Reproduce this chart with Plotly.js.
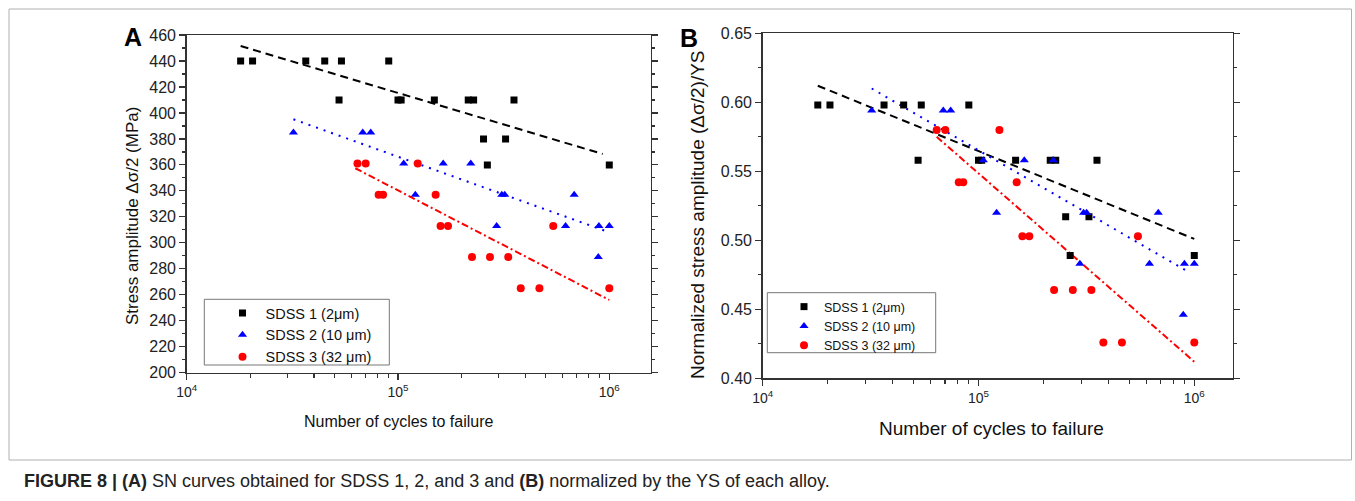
<!DOCTYPE html>
<html>
<head>
<meta charset="utf-8">
<script src="https://cdn.plot.ly/plotly-3.0.1.min.js"></script>
<style>
html,body{margin:0;padding:0;background:#fff;}
#chart{width:1355px;height:501px;}
</style>
</head>
<body>
<div id="chart"></div>
<script>
// ---------- Panel A: stress amplitude (MPa) ----------
const s1A_x = [18000, 20500, 36600, 45000, 54000, 90400, 52600, 100000, 103500, 148600, 215000, 228000, 354000, 254000, 323000, 264800, 1000000];
const s1A_y = [440, 440, 440, 440, 440, 440, 410, 410, 410, 410, 410, 410, 410, 380, 380, 360, 360];
const s2A_x = [32000, 68100, 74300, 106400, 163700, 221000, 120800, 310000, 320000, 682000, 293000, 621000, 893000, 1000000, 887000];
const s2A_y = [385, 385, 385, 361, 361, 361, 337, 337, 337, 337, 313, 313, 313, 313, 289];
const s3A_x = [64300, 70300, 81000, 85000, 124000, 150700, 159000, 172500, 224000, 272500, 332500, 543000, 381000, 467000, 1000000];
const s3A_y = [361, 361, 337, 337, 361, 337, 313, 313, 289, 289, 289, 313, 265, 265, 265];
const fit1A_x = [18000, 930000], fit1A_y = [451.5, 368.4];
const fit2A_x = [32000, 1000000], fit2A_y = [395.1, 308.1];
const fit3A_x = [62800, 1000000], fit3A_y = [357.4, 256.0];

// ---------- Panel B: normalized stress amplitude ----------
const s1B_x = [18000, 20500, 36500, 45000, 54300, 90200, 52500, 100000, 103500, 148600, 215000, 228000, 354000, 253500, 325000, 266000, 1000000];
const s1B_y = [0.598, 0.598, 0.598, 0.598, 0.598, 0.598, 0.558, 0.558, 0.558, 0.558, 0.558, 0.558, 0.558, 0.517, 0.517, 0.489, 0.489];
const s2B_x = [32000, 68700, 74300, 105300, 163000, 222000, 121300, 307000, 317000, 681000, 295000, 620000, 900000, 1000000, 889000];
const s2B_y = [0.594, 0.594, 0.594, 0.558, 0.558, 0.558, 0.520, 0.520, 0.520, 0.520, 0.483, 0.483, 0.483, 0.483, 0.446];
const s3B_x = [64000, 70200, 81000, 85000, 125000, 150300, 159700, 172000, 224000, 273500, 333500, 548000, 379000, 462000, 1000000];
const s3B_y = [0.580, 0.580, 0.542, 0.542, 0.580, 0.542, 0.503, 0.503, 0.464, 0.464, 0.464, 0.503, 0.426, 0.426, 0.426];
const fit1B_x = [18000, 1000000], fit1B_y = [0.612, 0.501];
const fit2B_x = [32000, 920000], fit2B_y = [0.610, 0.478];
const fit3B_x = [64000, 1000000], fit3B_y = [0.575, 0.412];

const seriesNames = ['SDSS 1 (2μm)', 'SDSS 2 (10 μm)', 'SDSS 3 (32 μm)'];
const xTickVals = [1e4, 1e5, 1e6];
const xTickText = ['10<sup>4</sup>', '10<sup>5</sup>', '10<sup>6</sup>'];
const xMinorVals = [2e4,3e4,4e4,5e4,6e4,7e4,8e4,9e4,2e5,3e5,4e5,5e5,6e5,7e5,8e5,9e5];

const W = 1355, H = 501;
const px = v => v / W, py = v => 1 - v / H;

const FONT = "Arial, 'Liberation Sans', Helvetica, sans-serif";
const colors = ['#000000', '#0000ff', '#ff0000'];
const symbols = ['square', 'triangle-up', 'circle'];
const sizes = [7, 8, 8];

function pts(x, y, i, xa, ya, leg) {
  return {x: x, y: y, type: 'scatter', mode: 'markers', name: seriesNames[i],
    xaxis: xa, yaxis: ya, legend: leg,
    marker: {symbol: symbols[i], color: colors[i], size: sizes[i], line: {width: 0}}};
}
const dashes = ['8px,5px', '2px,6px', '7px,3px,2px,3px'];
function fit(x, y, i, xa, ya) {
  return {x: x, y: y, type: 'scatter', mode: 'lines', showlegend: false,
    xaxis: xa, yaxis: ya, hoverinfo: 'skip',
    line: {color: colors[i], width: 2, dash: dashes[i]}};
}

const data = [
  fit(fit1A_x, fit1A_y, 0, 'x', 'y'), fit(fit2A_x, fit2A_y, 1, 'x', 'y'), fit(fit3A_x, fit3A_y, 2, 'x', 'y'),
  pts(s1A_x, s1A_y, 0, 'x', 'y', 'legend'), pts(s2A_x, s2A_y, 1, 'x', 'y', 'legend'), pts(s3A_x, s3A_y, 2, 'x', 'y', 'legend'),
  fit(fit1B_x, fit1B_y, 0, 'x2', 'y2'), fit(fit2B_x, fit2B_y, 1, 'x2', 'y2'), fit(fit3B_x, fit3B_y, 2, 'x2', 'y2'),
  pts(s1B_x, s1B_y, 0, 'x2', 'y2', 'legend2'), pts(s2B_x, s2B_y, 1, 'x2', 'y2', 'legend2'), pts(s3B_x, s3B_y, 2, 'x2', 'y2', 'legend2')
];

const axisCommon = {showgrid: false, zeroline: false, showline: true, linecolor: '#333', linewidth: 1.5,
  ticks: 'outside', tickcolor: '#333', tickwidth: 1.2, ticklen: 6, fixedrange: true};

function xAxis(domain, range, anchor, fs) {
  return Object.assign({}, axisCommon, {type: 'log', domain: domain, range: range, anchor: anchor,
    mirror: true, tickmode: 'array', tickvals: xTickVals, ticktext: xTickText,
    tickfont: {family: FONT, size: fs, color: '#222'},
    minor: {tickmode: 'array', tickvals: xMinorVals, ticklen: 4, tickcolor: '#333', ticks: 'outside', showgrid: false}});
}
function yAxis(domain, range, anchor, dtick, mdtick, fmt, fs) {
  return Object.assign({}, axisCommon, {domain: domain, range: range, anchor: anchor,
    mirror: 'ticks', tickmode: 'linear', tick0: range[0], dtick: dtick, tickformat: fmt,
    tickfont: {family: FONT, size: fs, color: '#222'},
    minor: {dtick: mdtick, ticklen: 3, tickcolor: '#333', ticks: 'outside', showgrid: false}});
}

const layout = {
  width: W, height: H,
  margin: {l: 0, r: 0, t: 0, b: 0},
  paper_bgcolor: '#fff', plot_bgcolor: '#fff',
  showlegend: true,
  xaxis: xAxis([px(186.7), px(650.7)], [4, 6.196], 'y', 14),
  yaxis: yAxis([py(372.7), py(35)], [200, 460], 'x', 20, 10, 'd', 16),
  xaxis2: xAxis([px(762.7), px(1232.7)], [4, 6.178], 'y2', 14),
  yaxis2: yAxis([py(378.3), py(33.3)], [0.40, 0.65], 'x2', 0.05, 0.025, '.2f', 16),
  legend: {x: px(219.5), y: py(297), xanchor: 'left', yanchor: 'top', bgcolor: 'rgba(0,0,0,0)', borderwidth: 0,
    itemwidth: 36, font: {family: FONT, size: 14.5, color: '#111'}, tracegroupgap: 0},
  legend2: {x: px(784), y: py(292), xanchor: 'left', yanchor: 'top', bgcolor: 'rgba(0,0,0,0)', borderwidth: 0,
    font: {family: FONT, size: 12.5, color: '#111'}, tracegroupgap: 0},
  shapes: [
    {type: 'rect', xref: 'paper', yref: 'paper', x0: px(9), x1: px(1351.5), y0: py(460), y1: py(9),
      line: {color: '#b0b0b0', width: 1}, fillcolor: 'rgba(0,0,0,0)', layer: 'below'},
    {type: 'rect', xref: 'paper', yref: 'paper', x0: px(204.3), x1: px(389.3), y0: py(365), y1: py(299.3),
      line: {color: '#777', width: 1}, fillcolor: '#fff', layer: 'above'},
    {type: 'rect', xref: 'paper', yref: 'paper', x0: px(767.3), x1: px(935.7), y0: py(352.7), y1: py(292.7),
      line: {color: '#777', width: 1}, fillcolor: '#fff', layer: 'above'}
  ],
  annotations: [
    {text: '<b>A</b>', x: px(133), y: py(37), xref: 'paper', yref: 'paper', showarrow: false,
      font: {family: FONT, size: 25, color: '#000'}, xanchor: 'center', yanchor: 'middle'},
    {text: '<b>B</b>', x: px(689), y: py(38), xref: 'paper', yref: 'paper', showarrow: false,
      font: {family: FONT, size: 25, color: '#000'}, xanchor: 'center', yanchor: 'middle'},
    {text: 'Stress amplitude Δσ/2 (MPa)', x: px(132), y: py(216), xref: 'paper', yref: 'paper', showarrow: false,
      textangle: -90, font: {family: FONT, size: 17, color: '#111'}, xanchor: 'center', yanchor: 'middle'},
    {text: 'Number of cycles to failure', x: px(399), y: py(421), xref: 'paper', yref: 'paper', showarrow: false,
      font: {family: FONT, size: 16, color: '#111'}, xanchor: 'center', yanchor: 'middle'},
    {text: 'Normalized stress amplitude (Δσ/2)/YS', x: px(697), y: py(215), xref: 'paper', yref: 'paper', showarrow: false,
      textangle: -90, font: {family: FONT, size: 19, color: '#111'}, xanchor: 'center', yanchor: 'middle'},
    {text: 'Number of cycles to failure', x: px(991.5), y: py(428), xref: 'paper', yref: 'paper', showarrow: false,
      font: {family: FONT, size: 19, color: '#111'}, xanchor: 'center', yanchor: 'middle'},
    {text: '<b>FIGURE 8 | (A)</b> SN curves obtained for SDSS 1, 2, and 3 and <b>(B)</b> normalized by the YS of each alloy.',
      x: px(22), y: py(481), xref: 'paper', yref: 'paper', showarrow: false,
      font: {family: FONT, size: 18, color: '#222'},
      xanchor: 'left', yanchor: 'middle'}
  ]
};

Plotly.newPlot('chart', data, layout, {staticPlot: true, displayModeBar: false});
</script>
</body>
</html>
